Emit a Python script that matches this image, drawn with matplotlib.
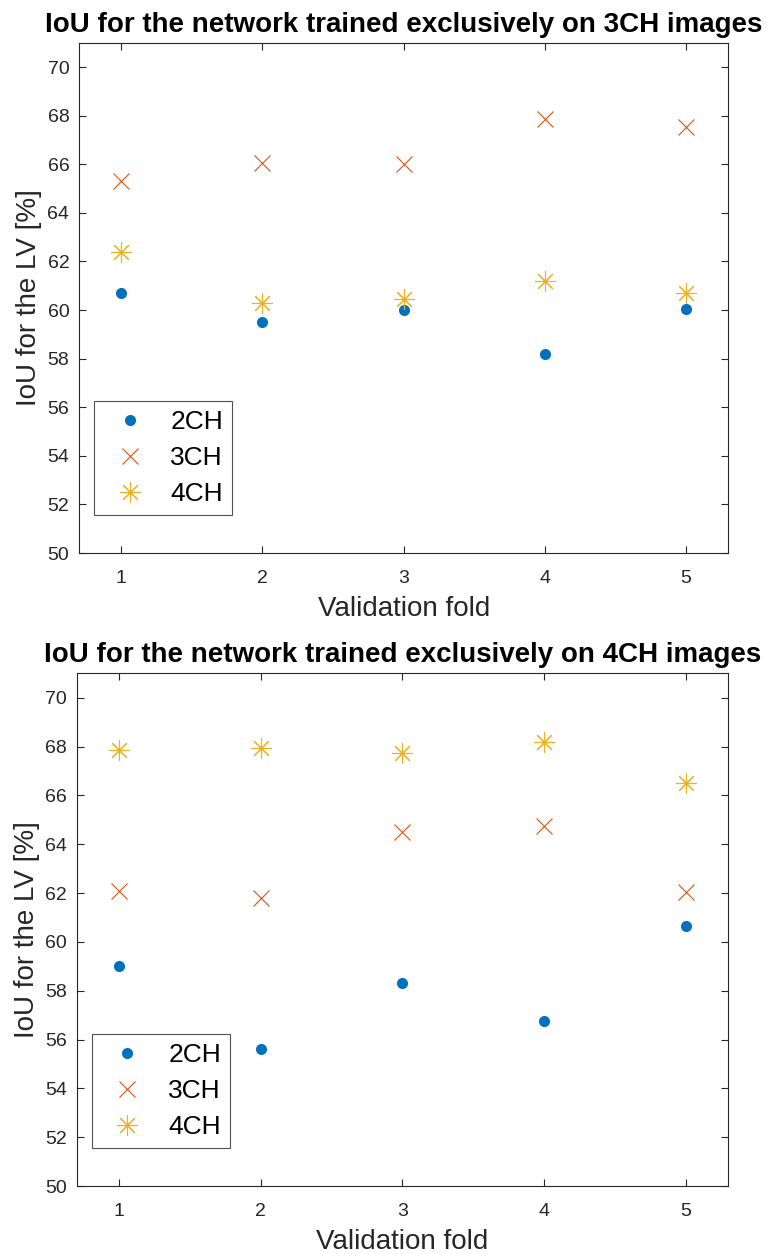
import numpy as np
import matplotlib
matplotlib.use("Agg")
import matplotlib.pyplot as plt

plt.rcParams['font.family'] = ['Liberation Sans', 'DejaVu Sans']

folds = [1, 2, 3, 4, 5]
views = ['2CH', '3CH', '4CH']

# IoU per fold, network trained on 3CH images only
iou_3ch_net = {
    '2CH': [60.7, 59.5, 60.0, 58.2, 60.05],
    '3CH': [65.3, 66.05, 66.0, 67.85, 67.55],
    '4CH': [62.4, 60.3, 60.45, 61.2, 60.7],
}
# IoU per fold, network trained on 4CH images only
iou_4ch_net = {
    '2CH': [59.0, 55.6, 58.3, 56.75, 60.65],
    '3CH': [62.1, 61.8, 64.5, 64.75, 62.05],
    '4CH': [67.85, 67.95, 67.75, 68.2, 66.5],
}

titles = ['IoU for the network trained exclusively on 3CH images',
          'IoU for the network trained exclusively on 4CH images']

# matlab default colours / markers
styles = {
    '2CH': dict(color='#0072BD', marker='o', ms=8, mew=0, ls='none'),
    '3CH': dict(color='#D95319', marker='x', ms=11, mew=0.8, ls='none'),
    '4CH': dict(color='#EDB120', marker=(8, 2, 0), ms=15, mew=0.8, ls='none'),
}
axcol = '#262626'

fig = plt.figure(figsize=(7.66, 12.54), dpi=100)
ax_top = fig.add_axes([0.1031, 0.5590, 0.8477, 0.4069])
ax_bot = fig.add_axes([0.1001, 0.0542, 0.8507, 0.4089])

for ax, data, title in zip([ax_top, ax_bot], [iou_3ch_net, iou_4ch_net], titles):
    for v in views:
        ax.plot(folds, data[v], label=v, **styles[v])
    ax.set_xlim(0.7, 5.3)
    ax.set_ylim(50, 71)
    ax.set_xticks(folds)
    ax.set_yticks(np.arange(50, 71, 2))
    ax.tick_params(direction='in', length=5, width=0.8, colors=axcol,
                   labelsize=14, top=True, right=True)
    ax.tick_params(axis='x', pad=12)
    ax.tick_params(axis='y', pad=7)
    for s in ax.spines.values():
        s.set_color(axcol)
        s.set_linewidth(0.8)
    ax.set_xlabel('Validation fold', fontsize=20, color=axcol, labelpad=7)
    ax.set_ylabel('IoU for the LV [%]', fontsize=20, color=axcol, labelpad=4)
    ax.set_title(title, fontsize=20, fontweight='bold', pad=8)
    leg = ax.legend(loc='lower left', bbox_to_anchor=(0.023, 0.074),
                    borderaxespad=0, fontsize=19, frameon=True, fancybox=False,
                    labelspacing=0.45, handletextpad=0.55, borderpad=0.35,
                    handlelength=2.0)
    leg.get_frame().set_edgecolor(axcol)
    leg.get_frame().set_linewidth(0.8)

fig.savefig('out.png', dpi=100)
